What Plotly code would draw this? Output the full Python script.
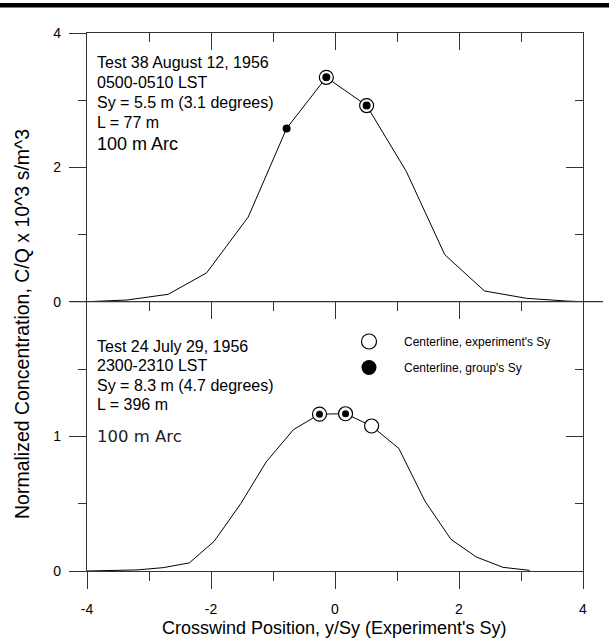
import plotly.graph_objects as go

# ---------------- data ----------------
top_x = [-4.0, -3.36, -2.69, -2.07, -1.40, -0.78, -0.14, 0.51, 1.15, 1.77, 2.41, 3.09, 3.73, 4.0]
top_y = [0.0, 0.025, 0.11, 0.43, 1.26, 2.58, 3.34, 2.92, 1.94, 0.70, 0.16, 0.05, 0.01, 0.0]
top_group_x = [-0.78, -0.14, 0.51]
top_group_y = [2.58, 3.34, 2.92]
top_exp_x = [-0.14, 0.51]
top_exp_y = [3.34, 2.92]

bot_x = [-4.0, -3.19, -2.77, -2.35, -1.95, -1.52, -1.11, -0.67, -0.25, 0.17, 0.59, 1.03, 1.45, 1.87, 2.28, 2.71, 3.14]
bot_y = [0.0, 0.008, 0.025, 0.06, 0.22, 0.50, 0.81, 1.05, 1.165, 1.168, 1.077, 0.91, 0.52, 0.235, 0.104, 0.027, 0.005]
bot_group_x = [-0.25, 0.17]
bot_group_y = [1.165, 1.168]
bot_exp_x = [-0.25, 0.17, 0.59]
bot_exp_y = [1.165, 1.168, 1.077]

x_tickvals = [-4, -2, 0, 2, 4]
x_ticktext = ["-4", "-2", "0", "2", "4"]
x_minor = [-3, -1, 1, 3]
top_y_tickvals = [0, 2, 4]
top_y_ticktext = ["0", "2", "4"]
top_y_minor = [1, 3]
bot_y_tickvals = [0, 1]
bot_y_ticktext = ["0", "1"]
bot_y_minor = [0.5, 1.5]

top_text = ["Test 38 August 12, 1956", "0500-0510 LST", "Sy = 5.5 m (3.1 degrees)", "L = 77 m"]
bot_text = ["Test 24 July 29, 1956", "2300-2310 LST", "Sy = 8.3 m (4.7 degrees)", "L = 396 m"]
arc_label = "100 m Arc"
legend_names = ["Centerline, experiment's Sy", "Centerline, group's Sy"]
x_title = "Crosswind Position, y/Sy (Experiment's Sy)"
y_title = "Normalized Concentration, C/Q x 10^3 s/m^3"

# ---------------- layout geometry ----------------
W, H = 609, 643
ML, MR, MT, MB = 87, 26, 33, 72
PW, PH = W - ML - MR, H - MT - MB


def px(xp):
    return (xp - ML) / PW


def py(yp):
    return (H - MB - yp) / PH


split = py(301.7)
AX = "#333333"
FONT = "Liberation Sans, Arial, sans-serif"

fig = go.Figure()

# top panel
fig.add_trace(go.Scatter(x=top_x, y=top_y, mode="lines", line=dict(color="black", width=1),
                         xaxis="x2", yaxis="y", showlegend=False, hoverinfo="skip"))
fig.add_trace(go.Scatter(x=top_exp_x, y=top_exp_y, mode="markers",
                         marker=dict(symbol="circle", size=14, color="white", line=dict(color="black", width=1.2)),
                         xaxis="x2", yaxis="y", showlegend=False))
fig.add_trace(go.Scatter(x=top_group_x, y=top_group_y, mode="markers",
                         marker=dict(symbol="circle", size=8, color="black"),
                         xaxis="x2", yaxis="y", showlegend=False))
# bottom panel
fig.add_trace(go.Scatter(x=bot_x, y=bot_y, mode="lines", line=dict(color="black", width=1),
                         xaxis="x", yaxis="y2", showlegend=False, hoverinfo="skip"))
fig.add_trace(go.Scatter(x=bot_exp_x, y=bot_exp_y, mode="markers",
                         marker=dict(symbol="circle", size=14, color="white", line=dict(color="black", width=1.2)),
                         xaxis="x", yaxis="y2", showlegend=False))
fig.add_trace(go.Scatter(x=bot_group_x, y=bot_group_y, mode="markers",
                         marker=dict(symbol="circle", size=7, color="black"),
                         xaxis="x", yaxis="y2", showlegend=False))
# legend entries
fig.add_trace(go.Scatter(x=[None], y=[None], mode="markers", name=legend_names[0], legendgroup="a",
                         marker=dict(symbol="circle", size=15, color="white", line=dict(color="black", width=1.2)),
                         xaxis="x", yaxis="y2"))
fig.add_trace(go.Scatter(x=[None], y=[None], mode="markers", name=legend_names[1], legendgroup="b",
                         marker=dict(symbol="circle", size=15, color="black"),
                         xaxis="x", yaxis="y2"))
# empty traces to activate mirror axes
fig.add_trace(go.Scatter(x=[], y=[], xaxis="x3", yaxis="y2", showlegend=False))
fig.add_trace(go.Scatter(x=[], y=[], xaxis="x2", yaxis="y3", showlegend=False))
fig.add_trace(go.Scatter(x=[], y=[], xaxis="x", yaxis="y4", showlegend=False))

common_x = dict(range=[-4, 4], showgrid=False, zeroline=False, showline=True, linecolor=AX, linewidth=1.3,
                tickvals=x_tickvals, ticktext=x_ticktext, tickcolor=AX, tickwidth=1.3, ticklen=17,
                tickfont=dict(family=FONT, size=14, color="black"), fixedrange=True)

fig.update_layout(
    width=W, height=H, margin=dict(l=ML, r=MR, t=MT, b=MB),
    paper_bgcolor="white", plot_bgcolor="white",
    xaxis=dict(**common_x, domain=[0, 1], anchor="y2", side="bottom", ticks="outside",
               minor=dict(tickvals=x_minor, ticks="outside", ticklen=9, tickcolor=AX, tickwidth=1.3),
               ticklabelstandoff=8),
    xaxis2=dict(**common_x, domain=[0, 1], anchor="y", side="top", ticks="inside", showticklabels=False,
                minor=dict(tickvals=x_minor, ticks="inside", ticklen=9, tickcolor=AX, tickwidth=1.3)),
    xaxis3=dict(**common_x, overlaying="x", anchor="y2", side="top", ticks="inside", showticklabels=False,
                minor=dict(tickvals=x_minor, ticks="inside", ticklen=9, tickcolor=AX, tickwidth=1.3)),
    yaxis=dict(domain=[split, 1], range=[0, 4], anchor="x2", side="left", showgrid=False, zeroline=False,
               showline=True, linecolor=AX, linewidth=1.3, tickvals=top_y_tickvals, ticktext=top_y_ticktext,
               ticks="outside", ticklen=17, tickcolor=AX, tickwidth=1.3, ticklabelstandoff=5,
               tickfont=dict(family=FONT, size=14, color="black"),
               minor=dict(tickvals=top_y_minor, ticks="outside", ticklen=8, tickcolor=AX, tickwidth=1.3)),
    yaxis3=dict(overlaying="y", range=[0, 4], anchor="x2", side="right", showgrid=False, zeroline=False,
                showline=True, linecolor=AX, linewidth=1.3, tickvals=top_y_tickvals, showticklabels=False,
                ticks="inside", ticklen=17, tickcolor=AX, tickwidth=1.3,
                minor=dict(tickvals=top_y_minor, ticks="inside", ticklen=8, tickcolor=AX, tickwidth=1.3)),
    yaxis2=dict(domain=[0, split], range=[0, 2], anchor="x", side="left", showgrid=False, zeroline=False,
                showline=True, linecolor=AX, linewidth=1.3, tickvals=bot_y_tickvals, ticktext=bot_y_ticktext,
                ticks="outside", ticklen=17, tickcolor=AX, tickwidth=1.3, ticklabelstandoff=5,
                tickfont=dict(family=FONT, size=14, color="black"),
                minor=dict(tickvals=bot_y_minor, ticks="outside", ticklen=8, tickcolor=AX, tickwidth=1.3)),
    yaxis4=dict(overlaying="y2", range=[0, 2], anchor="x", side="right", showgrid=False, zeroline=False,
                showline=True, linecolor=AX, linewidth=1.3, tickvals=bot_y_tickvals, showticklabels=False,
                ticks="inside", ticklen=17, tickcolor=AX, tickwidth=1.3,
                minor=dict(tickvals=bot_y_minor, ticks="inside", ticklen=8, tickcolor=AX, tickwidth=1.3)),
    legend=dict(x=px(334), y=py(327), xanchor="left", yanchor="top", bgcolor="rgba(0,0,0,0)",
                borderwidth=0, itemwidth=60, tracegroupgap=7,
                font=dict(family="Liberation Sans Narrow, Arial Narrow, Liberation Sans, Arial", size=12,
                          color="black")),
    showlegend=True,
)

annotations = []
for txt, yc in zip(top_text, [62.5, 82.5, 102.5, 122.5]):
    annotations.append(dict(text=txt, x=px(96), y=py(yc), xref="paper", yref="paper", xanchor="left",
                            yanchor="middle", showarrow=False, borderpad=0,
                            font=dict(family=FONT, size=16, color="black")))
annotations.append(dict(text=arc_label, x=px(96), y=py(144), xref="paper", yref="paper", xanchor="left",
                        yanchor="middle", showarrow=False, borderpad=0,
                        font=dict(family=FONT, size=18, color="black")))
for txt, yc in zip(bot_text, [346.2, 365.5, 385.0, 404.7]):
    annotations.append(dict(text=txt, x=px(96), y=py(yc), xref="paper", yref="paper", xanchor="left",
                            yanchor="middle", showarrow=False, borderpad=0,
                            font=dict(family=FONT, size=16, color="black")))
annotations.append(dict(text=arc_label, x=px(96), y=py(436.3), xref="paper", yref="paper", xanchor="left",
                        yanchor="middle", showarrow=False, borderpad=0,
                        font=dict(family="DejaVu Sans, sans-serif", size=16.5, color="#222222")))
annotations.append(dict(text=x_title, x=px(334), y=py(627.7), xref="paper", yref="paper", xanchor="center",
                        yanchor="middle", showarrow=False, font=dict(family=FONT, size=18, color="black")))
annotations.append(dict(text=y_title, x=px(22), y=py(324), xref="paper", yref="paper", xanchor="center",
                        yanchor="middle", showarrow=False, textangle=-90,
                        font=dict(family=FONT, size=19.5, color="black")))
fig.update_layout(annotations=annotations)

fig.update_layout(shapes=[
    dict(type="rect", xref="paper", yref="paper", x0=px(0), x1=px(W), y0=py(7.5), y1=py(3),
         fillcolor="black", line=dict(width=0)),
    dict(type="line", xref="paper", yref="paper", x0=px(70), x1=px(603), y0=split, y1=split,
         line=dict(color=AX, width=1.3)),
])

fig.write_html("out.html")
